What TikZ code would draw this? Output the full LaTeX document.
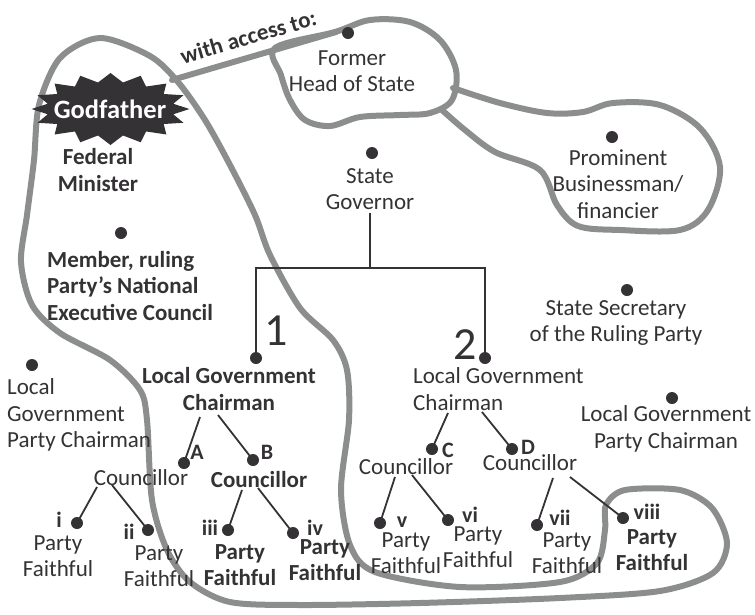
\documentclass[tikz,border=0pt]{standalone}
\usepackage{fontspec}
\setmainfont{Carlito}
\definecolor{ink}{RGB}{52,50,52}
\definecolor{loopgray}{RGB}{140,142,142}
\tikzset{
  txt/.style={font=\fontsize{23}{26.5}\selectfont, text=ink, inner sep=0pt, align=center},
  btxt/.style={txt, font=\bfseries\fontsize{23}{26.5}\selectfont},
  lbl/.style={font=\bfseries\fontsize{22}{24}\selectfont, text=ink, inner sep=0pt},
  dot/.style={circle, fill=ink, minimum size=12pt, inner sep=0pt},
  conn/.style={draw=ink, line width=1.8pt},
  blob/.style={draw=loopgray, line width=6pt, line join=round, line cap=round},
  bignum/.style={font=\fontsize{46}{46}\selectfont, text=ink, inner sep=0pt}
}
\begin{document}
\begin{tikzpicture}[x=1pt,y=-1pt]
\useasboundingbox (0,0) rectangle (755,614);
% gray outlines
\draw[blob] plot[smooth cycle, tension=0.5] coordinates {
 (100,38) (150,56) (178,82) (205,120) (230,165) (255,215) (270,255) (300,308)
 (333,340) (347,370) (349,420) (341,490) (350,545) (375,572) (460,587) (560,582)
 (597,563) (605,530) (606,505) (625,490) (680,490) (712,508) (727,543) (713,573)
 (660,591) (560,598) (420,603) (300,605) (230,602) (190,582) (167,550) (152,500)
 (147,420) (140,390) (110,360) (60,333) (32,305) (21,262) (27,215) (34,160)
 (39,105) (60,58)};
\draw[blob] plot[smooth cycle, tension=0.55] coordinates {
 (275,48) (335,32) (370,20) (410,22) (440,40) (456,70) (452,100) (430,113)
 (400,115) (360,117) (330,126) (305,120) (290,100) (281,75)};
\draw[blob] plot[smooth, tension=0.55] coordinates {
 (453,88) (500,103) (547,113) (583,112) (613,103) (660,105) (700,128) (720,167)
 (708,210) (680,230) (620,230) (578,226) (557,205) (540,170) (495,152) (465,130) (442,110)};
\coordinate (gfj) at (172,80);
\coordinate (hsj) at (336,32);
\draw[blob] (gfj) -- node[pos=0.5, sloped, above=9pt, inner sep=0pt, font=\bfseries\fontsize{23}{24}\selectfont, text=ink] {with access to:} (hsj);

% Godfather starburst
\begin{scope}[shift={(110.5,109)}]
\fill[ink] (0:79pt and 36pt)
  \foreach \j in {0,...,15} { -- (\j*22.5:79pt and 36pt) -- (\j*22.5+11.25:64pt and 27pt) } -- cycle;
\end{scope}
\node[inner sep=0pt, text=white, font=\bfseries\fontsize{26.5}{28}\selectfont] (gf) at (110,109) {Godfather};
\node[btxt] (fedmin) at (98,170) {Federal\\Minister};

% dots
\node[dot] (dmem) at (121,233) {};
\node[dot] (dlgpcl) at (32,365) {};
\node[dot] (dgov) at (372,153) {};
\node[dot] (dhs) at (348,33) {};
\node[dot] (dbus) at (612,137) {};
\node[dot] (dsec) at (627,290) {};
\node[dot] (dlgpcr) at (672,398) {};
\node[dot] (d1) at (256,358) {};
\node[dot] (d2) at (485,358) {};
\node[dot] (dA) at (184,463) {};
\node[dot] (dB) at (253,460) {};
\node[dot] (dC) at (432,449) {};
\node[dot] (dD) at (512,449) {};
\node[dot] (di) at (77,523) {};
\node[dot] (dii) at (148,530) {};
\node[dot] (diii) at (228,530) {};
\node[dot] (div) at (293,533) {};
\node[dot] (dv) at (380,523) {};
\node[dot] (dvi) at (448,520) {};
\node[dot] (dvii) at (537,525) {};
\node[dot] (dviii) at (623,518) {};

% texts
\node[btxt, anchor=west, align=left] (mem) at (47,286) {Member, ruling\\Party’s National\\Executive Council};
\node[txt, anchor=west, align=left] (lgpcl) at (7,415) {Local\\Government\\Party Chairman};
\node[txt] (gov) at (370,189) {State\\Governor};
\node[txt] (hs) at (352,71) {Former\\Head of State};
\node[txt] (bus) at (618,184) {Prominent\\Businessman/\\financier};
\node[txt] (sec) at (616,323) {State Secretary\\of the Ruling Party};
\node[txt] (lgpcr) at (666,429) {Local Government\\Party Chairman};
\node[bignum] (n1) at (276,331) {1};
\node[bignum] (n2) at (465,345) {2};
\node[btxt] (lgc1) at (229,389) {Local Government\\Chairman};
\node[txt, anchor=west, align=left] (lgc2) at (413,389) {Local Government\\Chairman};
\node[txt] (cA) at (141,478) {Councillor};
\node[btxt] (cB) at (259,480) {Councillor};
\node[txt] (cC) at (406,467) {Councillor};
\node[txt] (cD) at (530,463) {Councillor};
\node[txt] (pi) at (58,556) {Party\\Faithful};
\node[txt] (pii) at (159,566) {Party\\Faithful};
\node[btxt] (piii) at (240,565) {Party\\Faithful};
\node[btxt] (piv) at (325,560) {Party\\Faithful};
\node[txt] (pv) at (406,553) {Party\\Faithful};
\node[txt] (pvi) at (478,547) {Party\\Faithful};
\node[txt] (pvii) at (567,553) {Party\\Faithful};
\node[btxt] (pviii) at (652,550) {Party\\Faithful};

% small labels
\node[lbl] (lA) at (197,452) {A};
\node[lbl] (lB) at (267,452) {B};
\node[lbl] (lC) at (448,450) {C};
\node[lbl] (lD) at (528,447) {D};
\node[lbl] (li) at (59,520) {i};
\node[lbl] (lii) at (129,532) {ii};
\node[lbl] (liii) at (210,528) {iii};
\node[lbl] (liv) at (315,528) {iv};
\node[lbl] (lv) at (402,522) {v};
\node[lbl] (lvi) at (470,515) {vi};
\node[lbl] (lvii) at (560,518) {vii};
\node[lbl] (lviii) at (647,512) {viii};

% governor tree
\coordinate (bar) at (370,268);
\coordinate (govb) at (370,213);
\draw[conn] (govb) -- (bar);
\draw[conn] (d1.center) |- (bar) -| (d2.center);

% connectors
\coordinate (s1a) at (200,417); \coordinate (s1b) at (218,415);
\coordinate (s2c) at (448,413); \coordinate (s2d) at (482,412);
\coordinate (sAi) at (97,487);  \coordinate (sAii) at (112,485);
\coordinate (sBiii) at (242,490); \coordinate (sBiv) at (258,488);
\coordinate (sCv) at (395,477); \coordinate (sCvi) at (412,475);
\coordinate (sDvii) at (553,478); \coordinate (sDviii) at (570,477);
\draw[conn] (s1a) -- (dA.center);
\draw[conn] (s1b) -- (dB.center);
\draw[conn] (s2c) -- (dC.center);
\draw[conn] (s2d) -- (dD.center);
\draw[conn] (sAi) -- (di.center);
\draw[conn] (sAii) -- (dii.center);
\draw[conn] (sBiii) -- (diii.center);
\draw[conn] (sBiv) -- (div.center);
\draw[conn] (sCv) -- (dv.center);
\draw[conn] (sCvi) -- (dvi.center);
\draw[conn] (sDvii) -- (dvii.center);
\draw[conn] (sDviii) -- (dviii.center);
\end{tikzpicture}
\end{document}
